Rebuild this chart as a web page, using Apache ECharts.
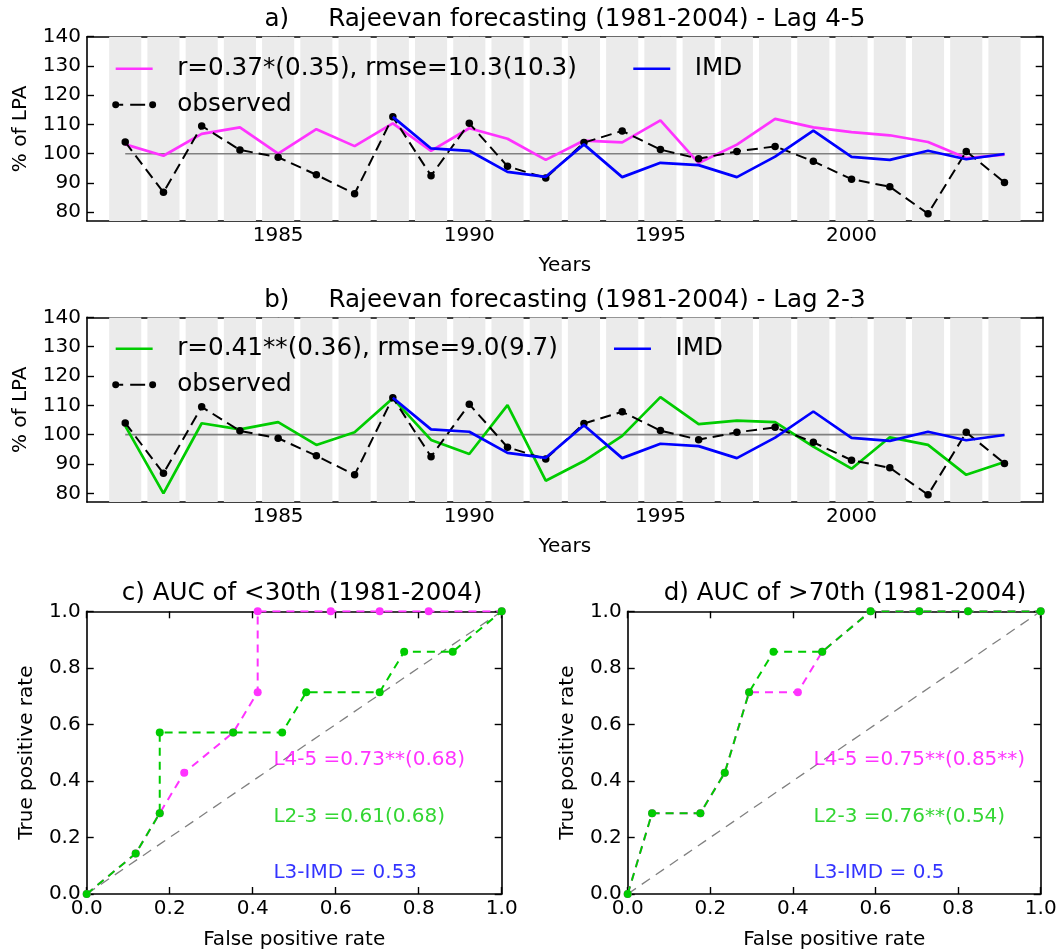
<!DOCTYPE html>
<html><head><meta charset="utf-8">
<script src="https://cdn.jsdelivr.net/npm/echarts@6/dist/echarts.min.js"></script>
<style>html,body{margin:0;padding:0;background:#fff}#c{width:1062px;height:951px}</style>
</head><body><div id="c"></div>
<script>
// ---------- data ----------
const years = [1981,1982,1983,1984,1985,1986,1987,1988,1989,1990,1991,1992,1993,1994,1995,1996,1997,1998,1999,2000,2001,2002,2003,2004];
const observed = [104.0,86.8,109.5,101.3,98.8,92.8,86.3,112.6,92.5,110.4,95.7,91.7,103.8,107.8,101.4,98.3,100.8,102.5,97.4,91.3,88.7,79.5,100.8,90.2];
const lag45 = [103.2,99.3,106.8,109.0,100.0,108.4,102.6,110.4,101.0,108.7,105.1,97.9,104.5,103.9,111.4,96.8,103.1,111.9,109.0,107.4,106.3,104.0,98.5,99.7];
const lag23 = [103.0,80.0,103.9,101.8,104.3,96.5,100.8,112.4,98.2,93.4,110.1,84.3,91.0,99.6,112.8,103.6,104.8,104.3,95.9,88.4,99.1,96.5,86.3,90.7];
const imdYears = [1988,1989,1990,1991,1992,1993,1994,1995,1996,1997,1998,1999,2000,2001,2002,2003,2004];
const imd = [112.6,101.8,101.0,93.8,92.1,103.2,92.0,96.9,96.1,92.0,99.0,107.9,98.9,97.9,101.0,98.1,99.9];
const refValue = 100;
const yearTicks = [1985,1990,1995,2000];
const lpaTicks = [80,90,100,110,120,130,140];

const cFprL45 = [0,0.118,0.176,0.235,0.353,0.412,0.412,0.588,0.706,0.824,1.0];
const cTprL45 = [0,0.143,0.286,0.429,0.571,0.714,1.0,1.0,1.0,1.0,1.0];
const cFprL23 = [0,0.118,0.176,0.176,0.353,0.471,0.529,0.706,0.765,0.882,1.0];
const cTprL23 = [0,0.143,0.286,0.571,0.571,0.571,0.714,0.714,0.857,0.857,1.0];
const dFprL45 = [0,0.059,0.176,0.235,0.294,0.412,0.471,0.588,0.706,0.824,1.0];
const dTprL45 = [0,0.286,0.286,0.429,0.714,0.714,0.857,1.0,1.0,1.0,1.0];
const dFprL23 = [0,0.059,0.176,0.235,0.294,0.353,0.471,0.588,0.706,0.824,1.0];
const dTprL23 = [0,0.286,0.286,0.429,0.714,0.857,0.857,1.0,1.0,1.0,1.0];
const diag = [0,1];

const nameA = 'r=0.37*(0.35), rmse=10.3(10.3)';
const nameB = 'r=0.41**(0.36), rmse=9.0(9.7)';
const cNotes = ['L4-5 =0.73**(0.68)','L2-3 =0.61(0.68)','L3-IMD = 0.53'];
const dNotes = ['L4-5 =0.75**(0.85**)','L2-3 =0.76**(0.54)','L3-IMD = 0.5'];
const noteY = [0.45,0.25,0.05];
const noteX = 0.45;

// ---------- styles ----------
const FONT = 'DejaVu Sans';
const PINK = '#ff33ff', PINKTXT = '#ff00ff', GREEN = '#00cc00', BLUE = '#0000ff', GRAY = '#808080';
const zip = (a,b) => a.map((v,i)=>[v,b[i]]);
const bandHalf = 0.42;

function xAxes(gi, min, max, opts) {
  const base = {
    gridIndex: gi, type: 'value', min, max,
    axisLine: {show: true, onZero: false, lineStyle: {color: '#000', width: 1.6}},
    splitLine: {show: false},
    axisTick: Object.assign({inside: true, length: 7, lineStyle: {color: '#000', width: 1.4}}, opts.tick || {}),
  };
  if (opts.interval) base.interval = opts.interval;
  return [
    Object.assign({}, base, {position: 'bottom',
      name: opts.name, nameLocation: 'middle', nameGap: opts.nameGap,
      nameTextStyle: {fontFamily: FONT, fontSize: 20, color: '#000'},
      axisLabel: Object.assign({fontFamily: FONT, fontSize: 20, color: '#000', margin: 5, formatter: opts.fmt}, opts.label || {})}),
    Object.assign({}, base, {position: 'top', axisLabel: {show: false}})
  ];
}
function yAxes(gi, min, max, opts) {
  const base = {
    gridIndex: gi, type: 'value', min, max,
    axisLine: {show: true, onZero: false, lineStyle: {color: '#000', width: 1.6}},
    splitLine: {show: false},
    axisTick: Object.assign({inside: true, length: 7, lineStyle: {color: '#000', width: 1.4}}, opts.tick || {}),
  };
  if (opts.interval) base.interval = opts.interval;
  return [
    Object.assign({}, base, {position: 'left',
      name: opts.name, nameLocation: 'middle', nameGap: opts.nameGap, nameRotate: 90,
      nameTextStyle: {fontFamily: FONT, fontSize: 20, color: '#000'},
      axisLabel: Object.assign({fontFamily: FONT, fontSize: 20, color: '#000', margin: 6, formatter: opts.fmt}, opts.label || {})}),
    Object.assign({}, base, {position: 'right', axisLabel: {show: false}})
  ];
}

const grids = [
  {left: 87, top: 36.7, width: 955.7, height: 184.3},
  {left: 87, top: 317.4, width: 955.7, height: 184.7},
  {left: 86.7, top: 611.3, width: 415, height: 284.4},
  {left: 627.7, top: 611.3, width: 413, height: 284.4}
];

const xAxis = [], yAxis = [];
[0,1].forEach(gi => {
  xAxis.push(...xAxes(gi, 1980, 2005, {name: 'Years', nameGap: 35,
    tick: {customValues: yearTicks}, label: {customValues: yearTicks}, fmt: v => String(v)}));
  yAxis.push(...yAxes(gi, 77, 140, {name: '% of LPA', nameGap: 56,
    tick: {customValues: lpaTicks}, label: {customValues: lpaTicks}, fmt: v => String(v)}));
});
[2,3].forEach(gi => {
  xAxis.push(...xAxes(gi, 0, 1, {name: 'False positive rate', nameGap: 36, interval: 0.2, fmt: v => v.toFixed(1)}));
  yAxis.push(...yAxes(gi, 0, 1, {name: 'True positive rate', nameGap: 50, interval: 0.2, fmt: v => v.toFixed(1)}));
});

const refData = [[years[0], refValue], [years[years.length-1], refValue]];
const series = [];
function tsPanel(gi, fcName, fcData, fcColor) {
  const xi = 2*gi, yi = 2*gi;
  series.push({
    type: 'line', xAxisIndex: xi, yAxisIndex: yi, z: 1, silent: true,
    data: refData, symbol: 'none', lineStyle: {opacity: 0},
    markArea: {silent: true, label: {show: false}, itemStyle: {color: '#ebebeb'},
      data: years.map(y => [{xAxis: y - bandHalf}, {xAxis: y + bandHalf}])}
  });
  series.push({type: 'line', xAxisIndex: xi, yAxisIndex: yi, z: 2, silent: true,
    data: refData, symbol: 'none', lineStyle: {color: GRAY, width: 1.6}});
  series.push({name: fcName, type: 'line', xAxisIndex: xi, yAxisIndex: yi, z: 3,
    data: zip(years, fcData), symbol: 'none', color: fcColor,
    lineStyle: {color: fcColor, width: 2.7}, itemStyle: {color: fcColor}});
  series.push({name: 'observed', type: 'line', xAxisIndex: xi, yAxisIndex: yi, z: 4,
    data: zip(years, observed), symbol: 'circle', symbolSize: 7.5, color: '#000',
    lineStyle: {color: '#000', width: 2, type: [11, 6]}, itemStyle: {color: '#000'}});
  series.push({name: 'IMD', type: 'line', xAxisIndex: xi, yAxisIndex: yi, z: 5,
    data: zip(imdYears, imd), symbol: 'none', color: BLUE,
    lineStyle: {color: BLUE, width: 2.7}, itemStyle: {color: BLUE}});
}
tsPanel(0, nameA, lag45, PINK);
tsPanel(1, nameB, lag23, GREEN);

function rocPanel(gi, f45, t45, f23, t23, notes) {
  const xi = 2*gi, yi = 2*gi;
  series.push({type: 'line', xAxisIndex: xi, yAxisIndex: yi, z: 2, silent: true,
    data: zip(diag, diag), symbol: 'none', lineStyle: {color: GRAY, width: 1.3, type: [10, 7]}});
  series.push({name: 'roc45_' + gi, type: 'line', xAxisIndex: xi, yAxisIndex: yi, z: 3, silent: true,
    data: zip(f45, t45), symbol: 'circle', symbolSize: 8, color: PINK,
    lineStyle: {color: PINK, width: 2, type: [8, 6]}, itemStyle: {color: PINK}});
  series.push({name: 'roc23_' + gi, type: 'line', xAxisIndex: xi, yAxisIndex: yi, z: 4, silent: true,
    data: zip(f23, t23), symbol: 'circle', symbolSize: 8, color: GREEN,
    lineStyle: {color: GREEN, width: 2, type: [8, 6]}, itemStyle: {color: GREEN}});
  const colors = [PINKTXT, GREEN, BLUE];
  series.push({type: 'scatter', xAxisIndex: xi, yAxisIndex: yi, z: 6, silent: true, symbolSize: 0,
    data: notes.map((t, i) => ({value: [noteX, noteY[i]],
      label: {show: true, formatter: t, color: colors[i]}})),
    label: {show: true, position: [0, 0], align: 'left', verticalAlign: 'bottom', offset: [0, 3],
      fontFamily: FONT, fontSize: 20}});
}
rocPanel(2, cFprL45, cTprL45, cFprL23, cTprL23, cNotes);
rocPanel(3, dFprL45, dTprL45, dFprL23, dTprL23, dNotes);

// ---------- legends ----------
const lineIcon = 'path://M0,0L0,0.01M44,7L44,7.01M3.5,2.2h37v2.6h-37z';
const obsIcon = 'path://M0,0L0,0.01M44,7L44,7.01M0,3.5a3.5,3.5 0 1,1 7,0a3.5,3.5 0 1,1 -7,0zM7,2.5h4v2h-4zM18,2.5h15v2h-15zM37,3.5a3.5,3.5 0 1,1 7,0a3.5,3.5 0 1,1 -7,0z';
function legend(data, left, top) {
  return {orient: 'vertical', left, top, padding: 0, itemGap: 10, itemWidth: 44, itemHeight: 7,
    selectedMode: false, itemStyle: {borderWidth: 0},
    textStyle: {fontFamily: FONT, fontSize: 24.7, lineHeight: 26, color: '#000', padding: [0, 0, 0, 16]},
    data};
}
const legends = [
  legend([{name: nameA, icon: lineIcon}, {name: 'observed', icon: obsIcon}], 112.2, 55.8),
  legend([{name: 'IMD', icon: lineIcon}], 629.8, 55.8),
  legend([{name: nameB, icon: lineIcon}, {name: 'observed', icon: obsIcon}], 112.2, 335.8),
  legend([{name: 'IMD', icon: lineIcon}], 610.5, 335.8)
];

// ---------- titles ----------
function title(text, x, y) {
  return {type: 'text', x, y, z: 100, silent: true,
    style: {text, fontFamily: FONT, fontSize: 24.6, fill: '#000', align: 'center', verticalAlign: 'middle'}};
}
const graphic = [
  title('a)     Rajeevan forecasting (1981-2004) - Lag 4-5', 564.9, 19.5),
  title('b)     Rajeevan forecasting (1981-2004) - Lag 2-3', 564.9, 300.2),
  title('c) AUC of <30th (1981-2004)', 302, 594),
  title('d) AUC of >70th (1981-2004)', 845, 594)
];

const chart = echarts.init(document.getElementById('c'), null, {renderer: 'canvas'});
chart.setOption({
  animation: false,
  backgroundColor: '#fff',
  textStyle: {fontFamily: FONT},
  grid: grids, xAxis, yAxis, series, legend: legends, graphic
});
</script></body></html>
